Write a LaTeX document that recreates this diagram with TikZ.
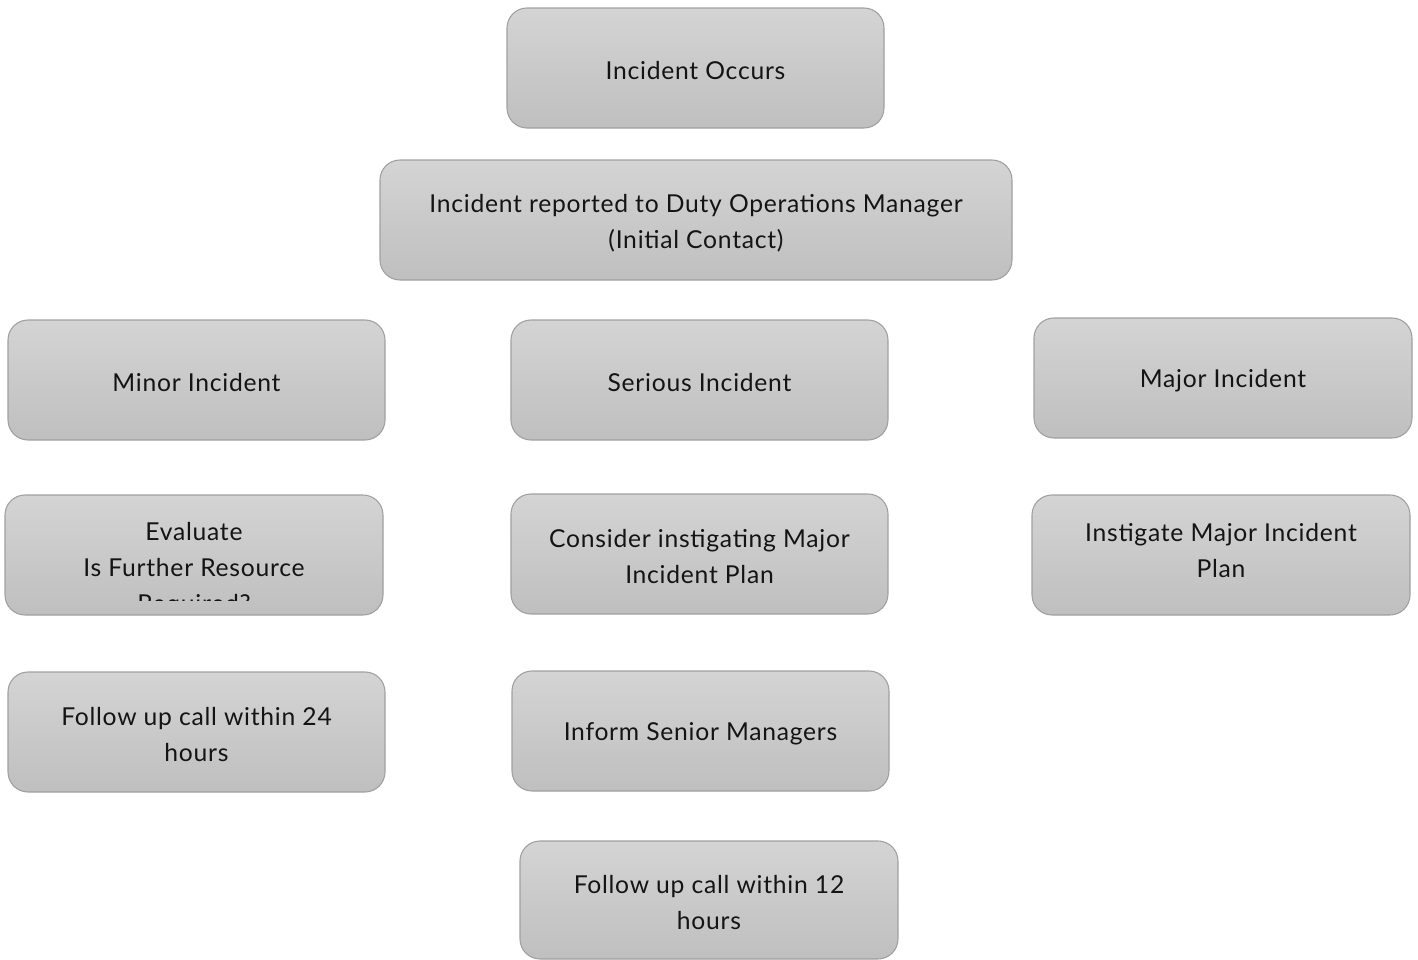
\documentclass[tikz,border=0pt]{standalone}
\usepackage{fontspec}
\setmainfont{Lato}[LetterSpace=3]
\definecolor{boxtop}{RGB}{212,212,212}
\definecolor{boxbot}{RGB}{191,191,191}
\definecolor{boxline}{RGB}{160,160,160}
\definecolor{txt}{RGB}{20,20,20}
\tikzset{
  stagebox/.style={rounded corners=15pt, draw=boxline, line width=0.8pt,
    top color=boxtop, bottom color=boxbot, inner sep=0pt},
  stagetext/.style={inner sep=0pt, text=txt, align=center,
    font=\fontsize{18.5}{27}\selectfont},
}
\newcommand{\mybox}[7][0]{%
  \node[stagebox, minimum width={(#5-#3)*0.75pt}, minimum height={(#6-#4)*0.75pt}]
    (#2) at ({(#3+#5)/2},{(#4+#6)/2}) {};
  \node[stagetext, yshift={(#1-3)*0.75pt}] (#2-t) at (#2.center) {#7};}
\begin{document}
\begin{tikzpicture}[x=0.75pt,y=-0.75pt]
\useasboundingbox (0,0) rectangle (1418,960);
\mybox{occurs}{507}{8}{884}{128}{Incident Occurs}
\mybox{reported}{380}{160}{1012}{280}{Incident reported to Duty Operations Manager\\(Initial Contact)}
\mybox{minor}{8}{320}{385}{440}{Minor Incident}
\mybox{serious}{511}{320}{888}{440}{Serious Incident}
\mybox{major}{1034}{318}{1412}{438}{Major Incident}
\node[stagebox, minimum width={378*0.75pt}, minimum height={120*0.75pt}] (evaluate) at (194,555) {};
\begin{scope}
\clip (5,495) rectangle (383,600);
\node[stagetext] (evaluate-t) at (194,570) {Evaluate\\Is Further Resource\\Required?};
\end{scope}
\mybox{consider}{511}{494}{888}{614}{Consider instigating Major\\Incident Plan}
\mybox[7]{instigate}{1032}{495}{1410}{615}{Instigate Major Incident\\Plan}
\mybox{follow24}{8}{672}{385}{792}{Follow up call within 24\\hours}
\mybox{inform}{512}{671}{889}{791}{Inform Senior Managers}
\mybox{follow12}{520}{841}{898}{959}{Follow up call within 12\\hours}
\end{tikzpicture}
\end{document}
